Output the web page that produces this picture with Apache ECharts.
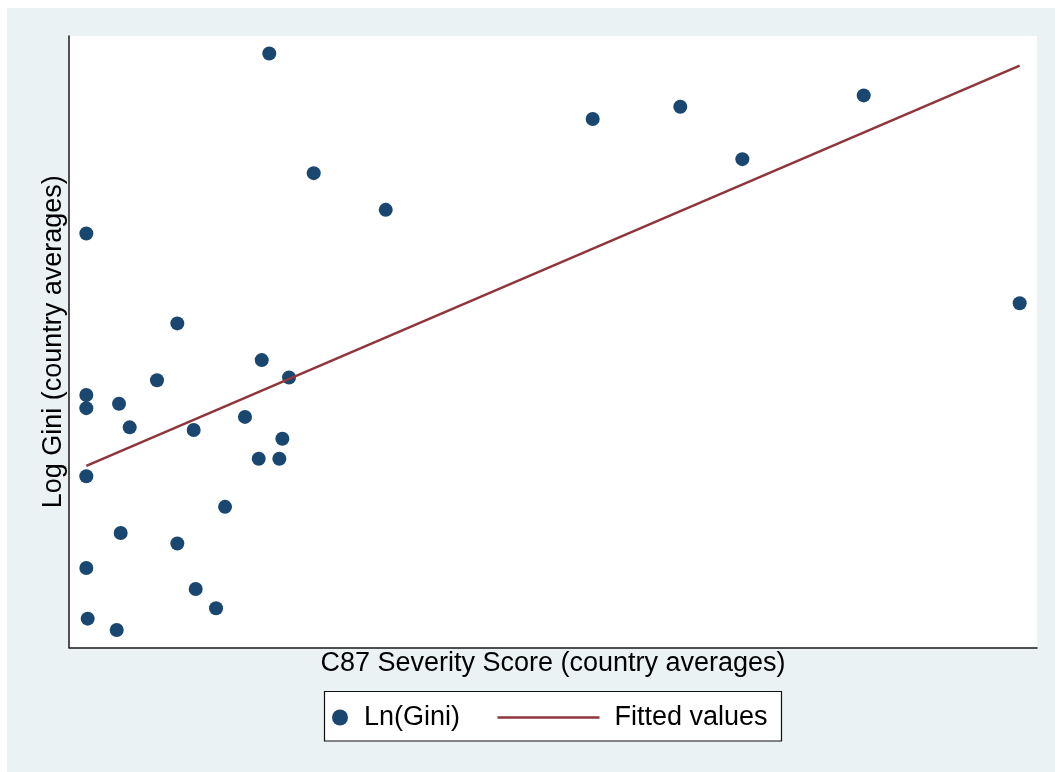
<!DOCTYPE html>
<html>
<head>
<meta charset="utf-8">
<script src="https://cdn.jsdelivr.net/npm/echarts@6/dist/echarts.min.js"></script>
<style>
  html, body { margin: 0; padding: 0; background: #ffffff; }
  #wrap { position: relative; width: 1055px; height: 772px; background: #ffffff; }
  #bg { position: absolute; left: 7px; top: 8px; right: 0; bottom: 0; background: #eaf2f3; }
  #chart { position: absolute; left: 0; top: 0; width: 1055px; height: 772px; }
</style>
</head>
<body>
<div id="wrap"><div id="bg"></div><div id="chart"></div></div>
<script>
// C87 severity score (country averages)
var severity = [1.79, 20.69, 25.28, 32.72, 54.10, 63.15, 69.56, 82.10, 98.21, 11.19,
                19.91, 9.09, 22.73, 1.79, 1.79, 5.17, 6.27, 12.88, 18.18, 22.04,
                19.60, 21.73, 1.79, 16.12, 5.34, 11.19, 1.79, 13.09, 15.19, 1.93, 4.93];
// Ln(Gini) (country averages)
var lnGini = [3.674, 3.880, 3.743, 3.701, 3.805, 3.819, 3.759, 3.832, 3.594, 3.571,
              3.529, 3.506, 3.509, 3.489, 3.474, 3.479, 3.452, 3.449, 3.464, 3.439,
              3.416, 3.416, 3.396, 3.361, 3.331, 3.319, 3.291, 3.267, 3.245, 3.233, 3.220];
// Fitted values (linear fit) at the ends of the observed range
var fitX = [1.79, 98.21];
var fitY = [3.408, 3.866];

var seriesNames = ['Ln(Gini)', 'Fitted values'];
var xTitle = 'C87 Severity Score (country averages)';
var yTitle = 'Log Gini (country averages)';

var FONT = "'Liberation Sans', Arial, Helvetica, sans-serif";
var scatterData = severity.map(function (x, i) { return [x, lnGini[i]]; });
var fitData = fitX.map(function (x, i) { return [x, fitY[i]]; });

var chart = echarts.init(document.getElementById('chart'), null, { renderer: 'canvas' });
chart.setOption({
  animation: false,
  backgroundColor: 'transparent',
  textStyle: { fontFamily: FONT },
  grid: {
    left: 69, right: 18, top: 36, bottom: 124.5,
    show: true, backgroundColor: '#ffffff', borderWidth: 0
  },
  xAxis: {
    type: 'value', min: 0, max: 100,
    name: xTitle, nameLocation: 'middle', nameGap: 3,
    nameTextStyle: { fontSize: 27, color: '#000', fontFamily: FONT, verticalAlign: 'top' },
    axisLine: { show: true, lineStyle: { color: '#1a1a1a', width: 1.5 } },
    axisTick: { show: false }, axisLabel: { show: false }, splitLine: { show: false }
  },
  yAxis: {
    type: 'value', min: 3.2, max: 3.9,
    name: yTitle, nameLocation: 'middle', nameGap: 2,
    nameTextStyle: { fontSize: 27, color: '#000', fontFamily: FONT },
    axisLine: { show: true, lineStyle: { color: '#1a1a1a', width: 1.5 } },
    axisTick: { show: false }, axisLabel: { show: false }, splitLine: { show: false }
  },
  graphic: [{
    type: 'rect', z: 1, silent: true,
    shape: { x: 324.5, y: 691.5, width: 457, height: 49.5 },
    style: { fill: '#ffffff', stroke: '#111111', lineWidth: 1.2 }
  }],
  legend: [{
    data: [{ name: seriesNames[0], icon: 'circle' }],
    left: 332, top: 704, padding: 0,
    itemWidth: 16, itemHeight: 16,
    itemStyle: { borderWidth: 0 },
    textStyle: { fontSize: 27, color: '#000', fontFamily: FONT, padding: [0, 0, 0, 11] }
  }, {
    data: [{ name: seriesNames[1], icon: 'rect' }],
    left: 497.5, top: 704, padding: 0,
    itemWidth: 102, itemHeight: 2.5,
    itemStyle: { borderWidth: 0, color: '#90353b' },
    lineStyle: { width: 0 },
    textStyle: { fontSize: 27, color: '#000', fontFamily: FONT, padding: [0, 0, 0, 10] }
  }],
  series: [{
    name: seriesNames[0], type: 'scatter', data: scatterData,
    symbol: 'circle', symbolSize: 14, z: 2,
    itemStyle: { color: '#1a476f', opacity: 1 }
  }, {
    name: seriesNames[1], type: 'line', data: fitData,
    symbol: 'none', showSymbol: false, z: 3,
    lineStyle: { color: '#90353b', width: 2.5 },
    itemStyle: { color: '#90353b' }
  }]
});
</script>
</body>
</html>
